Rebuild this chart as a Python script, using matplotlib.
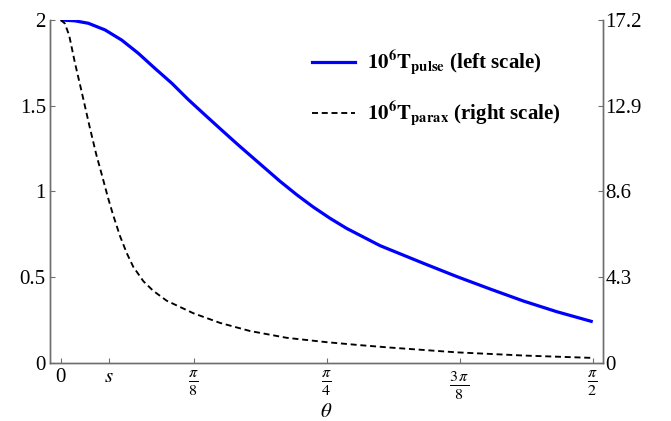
import numpy as np
import matplotlib
matplotlib.use("Agg")
import matplotlib.pyplot as plt
from matplotlib.lines import Line2D

plt.rcParams['font.family'] = ['Liberation Serif', 'DejaVu Serif']
plt.rcParams['mathtext.fontset'] = 'stix'

# ---- data ----
theta_pulse = [0.0, 0.042, 0.0815, 0.131, 0.18, 0.229, 0.278, 0.328, 0.377, 0.426,
               0.475, 0.524, 0.574, 0.648, 0.697, 0.746, 0.795, 0.844, 0.943, 1.071,
               1.169, 1.268, 1.366, 1.464, 1.5708]
T_pulse = [2.0, 1.995, 1.981, 1.942, 1.883, 1.806, 1.718, 1.631, 1.535, 1.446,
           1.358, 1.271, 1.185, 1.058, 0.98, 0.908, 0.843, 0.784, 0.683, 0.58,
           0.503, 0.43, 0.36, 0.298, 0.239]

theta_parax = [0.0, 0.012, 0.025, 0.042, 0.062, 0.085, 0.105, 0.121, 0.14, 0.155,
               0.175, 0.195, 0.214, 0.244, 0.273, 0.313, 0.392, 0.47, 0.559,
               0.667, 0.785, 0.884, 0.972, 1.169, 1.366, 1.5708]
T_parax = [17.2, 17.03, 16.43, 15.05, 13.59, 11.87, 10.45, 9.46, 8.26, 7.40,
           6.36, 5.50, 4.82, 4.09, 3.61, 3.11, 2.48, 2.0, 1.59,
           1.25, 1.03, 0.88, 0.76, 0.52, 0.36, 0.24]

s_value = 0.1435
xticks = [0.0, s_value, np.pi / 8, np.pi / 4, 3 * np.pi / 8, np.pi / 2]
xticklabels = ['0', r'$s$', r'$\frac{\pi}{8}$', r'$\frac{\pi}{4}$',
               r'$\frac{3\,\pi}{8}$', r'$\frac{\pi}{2}$']
left_ticks = [0, 0.5, 1, 1.5, 2]
left_labels = ['0', '0.5', '1', '1.5', '2']
right_ticks = [0, 4.3, 8.6, 12.9, 17.2]
right_labels = ['0', '4.3', '8.6', '12.9', '17.2']

label_pulse = r'$\mathbf{10^{6}T_{pulse}}$ (left scale)'
label_parax = r'$\mathbf{10^{6}T_{parax}}$ (right scale)'

# ---- figure ----
fig = plt.figure(figsize=(6.71, 4.21), dpi=100)
ax = fig.add_axes([50 / 671, 1 - 362.7 / 421, (603.3 - 50) / 671, (362.7 - 20) / 421])
ax2 = ax.twinx()

spine_col = '#6e6e6e'
fs = 15

ax.plot(theta_pulse, T_pulse, color='#0000ff', lw=2.3, solid_capstyle='butt',
        solid_joinstyle='round', zorder=3)
ax2.plot(theta_parax, T_parax, color='black', lw=1.35, dashes=(3.2, 2.0))

ax.set_xlim(-0.0316, 1.602)
ax.set_ylim(0, 2)
ax2.set_ylim(0, 17.2)

for a in (ax, ax2):
    a.spines['top'].set_visible(False)
    for sp in ('left', 'right', 'bottom'):
        a.spines[sp].set_color(spine_col)
        a.spines[sp].set_linewidth(1.0)

ax.set_xticks(xticks)
ax.set_xticklabels(xticklabels, fontsize=fs)
for lbl in ax.get_xticklabels()[2:]:
    lbl.set_fontsize(16.5)
ax.set_yticks(left_ticks)
ax.set_yticklabels(left_labels, fontsize=fs)
ax2.set_yticks(right_ticks)
ax2.set_yticklabels(right_labels, fontsize=fs)

ax.tick_params(axis='x', direction='in', length=3.5, width=0.8, color=spine_col, pad=4)
ax.tick_params(axis='y', direction='in', length=3.5, width=0.8, color=spine_col, pad=3)
ax2.tick_params(axis='y', direction='in', length=3.5, width=0.8, color=spine_col, pad=1.5)

ax.set_xlabel(r'$\theta$', fontsize=fs, labelpad=1)

handles = [Line2D([], [], color='#0000ff', lw=2.3),
           Line2D([], [], color='black', lw=1.35, dashes=(3.2, 2.0))]
leg = fig.legend(handles, [label_pulse, label_parax], loc='center left',
                 bbox_to_anchor=(311.7 / 671, 1 - 88.5 / 421), frameon=False,
                 borderpad=0, borderaxespad=0, handlelength=2.1, handletextpad=0.55,
                 labelspacing=1.05, prop={'weight': 'bold', 'size': fs})

fig.savefig('out.png', dpi=100)
